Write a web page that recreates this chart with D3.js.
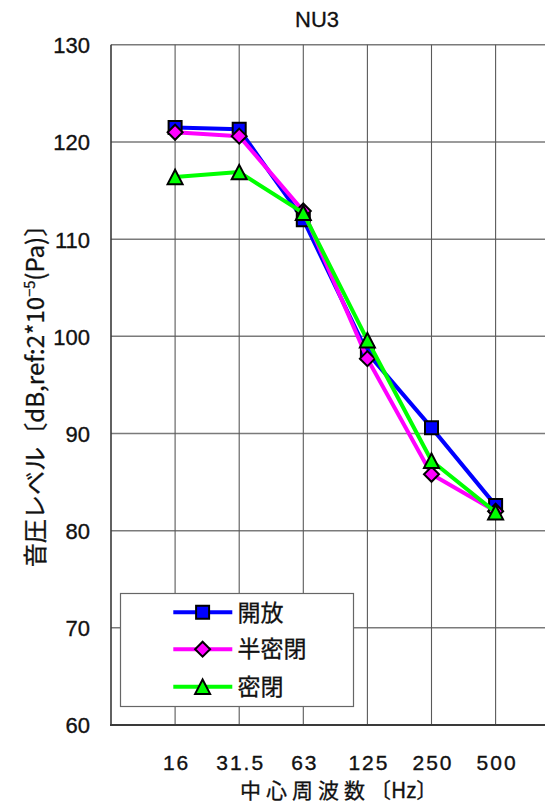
<!DOCTYPE html>
<html><head><meta charset="utf-8">
<script src="https://cdn.jsdelivr.net/npm/d3@7"></script>
<style>body{margin:0;background:#fff}svg{display:block}</style>
</head><body><svg id="c" width="545" height="803"></svg>
<script>
const chartTitle = "NU3";
const categories = ["16", "31.5", "63", "125", "250", "500"];
const seriesNames = ["開放", "半密閉", "密閉"];
const seriesColors = ["#0000FF", "#FF00FF", "#00FF00"];
const seriesSymbols = ["square", "diamond", "triangle"];
const openValues = [121.5, 121.3, 112.0, 98.3, 90.6, 82.6];
const semiClosedValues = [121.0, 120.6, 112.9, 97.7, 85.8, 82.0];
const closedValues = [116.4, 116.9, 112.7, 99.6, 87.2, 81.9];
const yTicks = [60, 70, 80, 90, 100, 110, 120, 130];
const xTitleCJK = "中心周波数";
const xTitleUnit = "〔Hz〕";
const yTitleMain = "音圧レベル〔dB,ref:2*10";
const yTitleSup = "−5";
const yTitleEnd = "(Pa)〕";

const series = [openValues, semiClosedValues, closedValues].map((v, i) => ({
  name: seriesNames[i], color: seriesColors[i], symbol: seriesSymbols[i], values: v
}));

const svg = d3.select("#c");
const L = 111, T = 44.8, B = 725, STEP = 64.1;
const x = d3.scaleLinear().domain([0, 7]).range([L, L + 7 * STEP]);
const y = d3.scaleLinear().domain([60, 130]).range([B, T]);
const INK = "#111";
const LATIN = "'Liberation Sans', Arial, sans-serif";
const CJK = "'Noto Sans CJK JP', sans-serif";

// horizontal gridlines
svg.append("g").selectAll("line").data(yTicks).join("line")
  .attr("x1", L).attr("x2", x(7)).attr("y1", d => y(d)).attr("y2", d => y(d))
  .attr("stroke", "#7a7a7a").attr("stroke-width", 1.5);
// vertical gridlines
svg.append("g").selectAll("line").data(d3.range(1, 8)).join("line")
  .attr("x1", d => x(d)).attr("x2", d => x(d)).attr("y1", y(130)).attr("y2", y(60))
  .attr("stroke", "#5a5a5a").attr("stroke-width", 1.1);
// axis lines
svg.append("line").attr("x1", L).attr("x2", L).attr("y1", y(130)).attr("y2", y(60) + 1)
  .attr("stroke", "#3a3a3a").attr("stroke-width", 1.6);
svg.append("line").attr("x1", L - 1).attr("x2", x(7)).attr("y1", y(60)).attr("y2", y(60))
  .attr("stroke", "#3a3a3a").attr("stroke-width", 2.2);

// y tick labels
const yAxis = d3.axisLeft(y).tickValues(yTicks).tickSize(0).tickPadding(21);
const ya = svg.append("g").attr("transform", `translate(${L},0)`).call(yAxis);
ya.select(".domain").remove();
ya.selectAll("text").attr("font-family", LATIN).attr("font-size", 22).attr("fill", INK)
  .attr("stroke", INK).attr("stroke-width", 0.35).attr("dy", "0.36em");

// x tick labels
const xAxis = d3.axisBottom(x).tickValues(d3.range(1, 7)).tickFormat(i => categories[i - 1]).tickSize(0).tickPadding(0);
const xa = svg.append("g").attr("transform", `translate(0,${B})`).call(xAxis);
xa.select(".domain").remove();
xa.selectAll("text").attr("font-family", LATIN).attr("font-size", 21).attr("fill", INK)
  .attr("stroke", INK).attr("stroke-width", 0.35)
  .attr("letter-spacing", "2px").attr("y", 44.5).attr("dy", null);
// letter-spacing adds trailing space; recentre
xa.selectAll("text").attr("dx", "1px");

// symbols
function symPath(s, cx, cy) {
  if (s === "square") { const h = 6.5; return `M${cx - h},${cy - h}h${2 * h}v${2 * h}h${-2 * h}Z`; }
  if (s === "diamond") { const h = 7.5; return `M${cx},${cy - h}L${cx + h},${cy}L${cx},${cy + h}L${cx - h},${cy}Z`; }
  const w = 7.5, hh = 7.2; return `M${cx},${cy - hh}L${cx + w},${cy + hh}L${cx - w},${cy + hh}Z`;
}

const line = d3.line().x((d, i) => x(i + 1)).y(d => y(d));
series.forEach(s => {
  const g = svg.append("g");
  g.append("path").attr("d", line(s.values)).attr("fill", "none")
    .attr("stroke", s.color).attr("stroke-width", 4).attr("stroke-linejoin", "round");
  g.selectAll("path.m").data(s.values).join("path").attr("class", "m")
    .attr("d", (d, i) => symPath(s.symbol, x(i + 1), y(d)))
    .attr("fill", s.color).attr("stroke", "#000").attr("stroke-width", 2).attr("stroke-linejoin", "miter");
});

// legend
const lg = svg.append("g");
lg.append("rect").attr("x", 120.5).attr("y", 593.5).attr("width", 233).attr("height", 113)
  .attr("fill", "#fff").attr("stroke", "#666").attr("stroke-width", 1.2);
const rowsY = [612.3, 649.2, 686.7];
series.forEach((s, i) => {
  const ry = rowsY[i];
  lg.append("line").attr("x1", 173.3).attr("x2", 232.3).attr("y1", ry).attr("y2", ry)
    .attr("stroke", s.color).attr("stroke-width", 4);
  lg.append("path").attr("d", symPath(s.symbol, 202.6, ry)).attr("fill", s.color)
    .attr("stroke", "#000").attr("stroke-width", 2);
  lg.append("text").attr("x", 237.5).attr("y", ry).attr("dy", "0.36em")
    .attr("font-family", CJK).attr("font-size", 23).attr("fill", INK)
    .attr("stroke", INK).attr("stroke-width", 0.3)
    .text(s.name);
});

// title
svg.append("text").attr("x", 317).attr("y", 26.5).attr("text-anchor", "middle")
  .attr("font-family", LATIN).attr("font-size", 22).attr("fill", INK)
  .attr("stroke", INK).attr("stroke-width", 0.3)
  .attr("textLength", 44).text(chartTitle);

// x title: fit to span 240..437
const xt = svg.append("text").attr("x", 0).attr("y", 797.5)
  .attr("font-family", CJK).attr("font-size", 21).attr("fill", INK)
  .attr("stroke", INK).attr("stroke-width", 0.3);
xt.append("tspan").attr("letter-spacing", "5px").text(xTitleCJK);
xt.append("tspan").text(xTitleUnit);
{
  const bb = xt.node().getBBox();
  xt.attr("x", 240 - (bb.x - 0));
}

// y title: rotated, spanning y 213..568
const yt = svg.append("text")
  .attr("font-family", CJK).attr("font-size", 23).attr("fill", INK)
  .attr("stroke", INK).attr("stroke-width", 0.3);
yt.append("tspan").text(yTitleMain);
yt.append("tspan").attr("font-size", 14).attr("dy", "-9").text(yTitleSup);
yt.append("tspan").attr("dy", "9").text(yTitleEnd);
{
  const w = yt.node().getComputedTextLength();
  const target = 355;
  const fs = 23 * target / w;
  yt.attr("font-size", fs);
  yt.selectAll("tspan").filter((d, i) => i === 1).attr("font-size", fs * 0.6);
  const w2 = yt.node().getComputedTextLength();
  yt.attr("transform", `translate(44,${390 + w2 / 2}) rotate(-90)`);
}
</script></body></html>
